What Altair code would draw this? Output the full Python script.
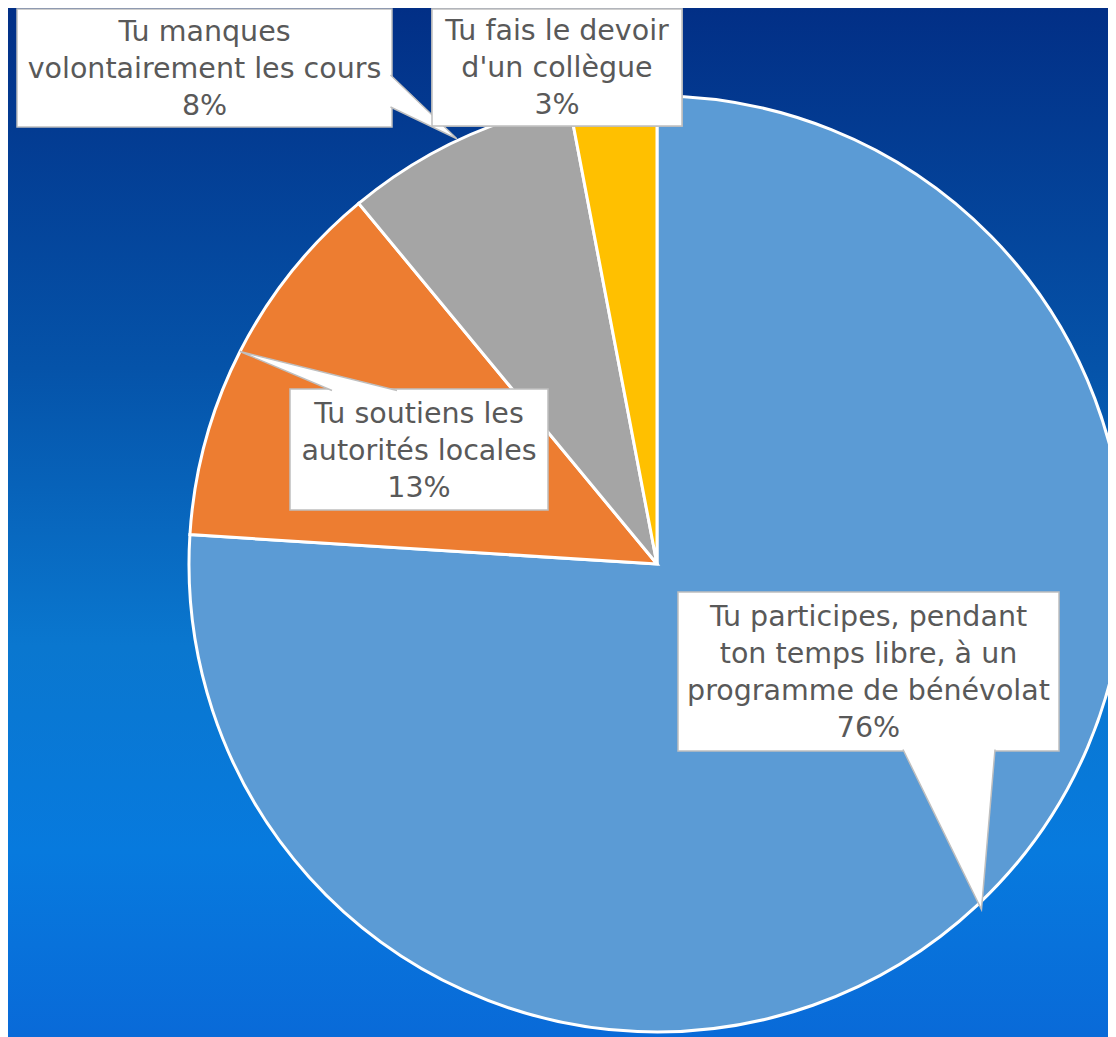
import math
import altair as alt
import pandas as pd

# ---- data ----
labels = [
    "Tu participes, pendant ton temps libre, à un programme de bénévolat",
    "Tu soutiens les autorités locales",
    "Tu manques volontairement les cours",
    "Tu fais le devoir d'un collègue",
]
label_lines = [
    ["Tu participes, pendant", "ton temps libre, à un", "programme de bénévolat"],
    ["Tu soutiens les", "autorités locales"],
    ["Tu manques", "volontairement les cours"],
    ["Tu fais le devoir", "d'un collègue"],
]
values = [76, 13, 8, 3]
colors = ["#5b9bd5", "#ed7d31", "#a5a5a5", "#ffc000"]

# ---- layout (svg pixel coords) ----
W, H = 1100, 1029
CX, CY, R = 649, 556, 468
LH = 37
# callout boxes: x, x2, y, y2
boxes = [
    (670, 1051, 584, 743),
    (282, 540, 381, 502),
    (9, 384, 1, 119),
    (424, 674, 1, 118),
]
text_centers = [(860.5, 664), (411, 443), (196.5, 61), (549, 60)]
# pointer bases: (ax, ay, bx, by) or None
bases = [
    (895, 741.5, 987, 741.5),
    (324, 382.5, 389, 382.5),
    (382.5, 67, 382.5, 99),
    None,
]
tip_r = [474, 468, 470, None]

df = pd.DataFrame({
    "label": labels,
    "value": values,
    "order": list(range(len(labels))),
})

total = sum(values)
box_rows, ptr_rows = [], []
cum = 0
for i, lab in enumerate(labels):
    mid = (cum + values[i] / 2) / total * 2 * math.pi
    cum += values[i]
    x, x2, y, y2 = boxes[i]
    tx, ty = text_centers[i]
    lines = label_lines[i] + [f"{values[i]}%"]
    box_rows.append({
        "label": lab, "bx": x, "bx2": x2, "by": y, "by2": y2,
        "tx": tx, "ty": ty - (len(lines) - 1) / 2 * LH,
        "txt": "\n".join(lines),
        "top": 1 if i == 3 else 0,
    })
    if bases[i] is not None:
        ax, ay, bx, by = bases[i]
        r = tip_r[i]
        px = CX + r * math.sin(mid)
        py = CY - r * math.cos(mid)
        for s, (qx, qy) in enumerate([(ax, ay), (px, py), (bx, by)]):
            ptr_rows.append({"label": lab, "seq": s, "px": qx, "py": qy})

boxes_df = pd.DataFrame(box_rows)
ptr_df = pd.DataFrame(ptr_rows)

gradient = {
    "gradient": "linear", "x1": 0, "y1": 0, "x2": 0, "y2": 1,
    "stops": [
        {"offset": 0.0, "color": "#022f86"},
        {"offset": 0.35, "color": "#0553a9"},
        {"offset": 0.62, "color": "#0a77cf"},
        {"offset": 0.82, "color": "#077ade"},
        {"offset": 1.0, "color": "#096ad8"},
    ],
}

bg = alt.Chart(pd.DataFrame({"a": [0]})).mark_rect(fill=gradient).encode(
    x=alt.value(0), x2=alt.value(W), y=alt.value(0), y2=alt.value(H)
)

pie = alt.Chart(df).mark_arc(radius=R, stroke="white", strokeWidth=3).encode(
    theta=alt.Theta("value:Q", stack=True),
    color=alt.Color("label:N", scale=alt.Scale(domain=labels, range=colors), legend=None),
    order=alt.Order("order:Q"),
    x=alt.value(CX),
    y=alt.value(CY),
)

box_enc = dict(
    x=alt.X("bx:Q", scale=None, axis=None),
    x2="bx2:Q",
    y=alt.Y("by:Q", scale=None, axis=None),
    y2="by2:Q",
)
rects = alt.Chart(boxes_df).mark_rect(fill="white", stroke="#bfbfbf", strokeWidth=1.5).encode(**box_enc)
rects_top = alt.Chart(boxes_df).transform_filter("datum.top == 1").mark_rect(
    fill="white", stroke="#bfbfbf", strokeWidth=1.5
).encode(**box_enc)

pointers = alt.Chart(ptr_df).mark_line(
    fill="white", stroke="#bfbfbf", strokeWidth=1.5, interpolate="linear"
).encode(
    x=alt.X("px:Q", scale=None, axis=None),
    y=alt.Y("py:Q", scale=None, axis=None),
    detail="label:N",
    order="seq:Q",
)

texts = alt.Chart(boxes_df).mark_text(
    font="DejaVu Sans", fontSize=28.5, color="#595959", align="center",
    baseline="middle", lineBreak="\n", lineHeight=LH,
).encode(
    x=alt.X("tx:Q", scale=None, axis=None),
    y=alt.Y("ty:Q", scale=None, axis=None),
    text="txt:N",
)

chart = alt.layer(bg, pie, rects, pointers, rects_top, texts).properties(
    width=W, height=H, padding=0, autosize=alt.AutoSizeParams(type="none"),
    background="#0553a9",
).configure_view(stroke=None)

chart.save("out.html", embed_options={"renderer": "svg", "actions": False})
